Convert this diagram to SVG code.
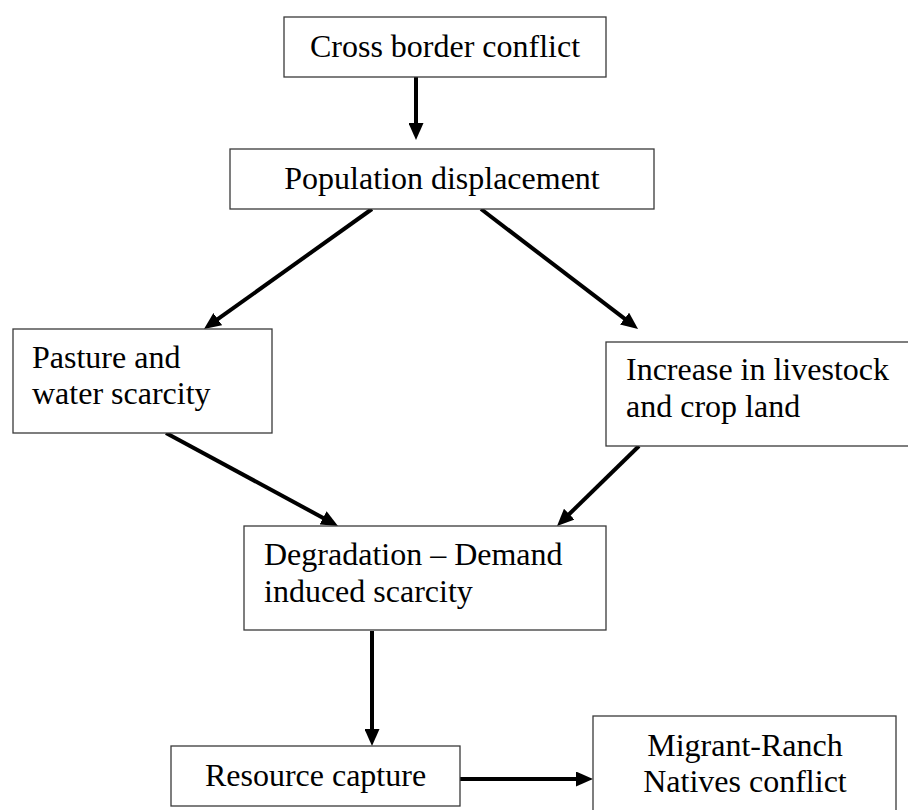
<svg xmlns="http://www.w3.org/2000/svg" width="908" height="810" viewBox="0 0 908 810">
<style>
.box{fill:#fff;stroke:#3a3a3a;stroke-width:1.3}
.t{font-family:"Liberation Serif","Times New Roman",serif;font-size:32px;fill:#000}
.c{text-anchor:middle}
.a{stroke:#000;stroke-width:4;fill:none;marker-end:url(#ah)}
</style>
<defs>
<marker id="ah" markerUnits="userSpaceOnUse" markerWidth="17" markerHeight="15" viewBox="0 0 17 15" refX="7" refY="7.5" orient="auto">
<path d="M0,0 L17,7.5 L0,15 z" fill="#000"/>
</marker>
</defs>
<rect width="908" height="810" fill="#fff"/>
<g id="connectors">
<line class="a" x1="416" y1="77" x2="416" y2="130"/>
<line class="a" x1="372" y1="209" x2="212.1" y2="323.2"/>
<line class="a" x1="481" y1="209" x2="630.1" y2="322.9"/>
<line class="a" x1="166" y1="433" x2="329.2" y2="521.2"/>
<line class="a" x1="639" y1="446" x2="564.2" y2="519"/>
<line class="a" x1="372" y1="631" x2="372" y2="736"/>
<line class="a" x1="460" y1="779" x2="583" y2="779"/>
</g>
<g id="cross-border">
<rect class="box" x="284" y="17" width="322" height="60"/>
<text class="t c" x="445" y="57">Cross border conflict</text>
</g>
<g id="population">
<rect class="box" x="230" y="149" width="424" height="60"/>
<text class="t c" x="442" y="189">Population displacement</text>
</g>
<g id="pasture">
<rect class="box" x="13" y="329" width="259" height="104"/>
<text class="t" x="32" y="368">Pasture and</text>
<text class="t" x="32" y="404">water scarcity</text>
</g>
<g id="increase">
<rect class="box" x="606" y="342" width="310" height="104"/>
<text class="t" x="626" y="380">Increase in livestock</text>
<text class="t" x="626" y="417">and crop land</text>
</g>
<g id="degradation">
<rect class="box" x="244" y="526" width="362" height="104"/>
<text class="t" x="264" y="565">Degradation – Demand</text>
<text class="t" x="264" y="602">induced scarcity</text>
</g>
<g id="resource">
<rect class="box" x="171" y="746" width="289" height="60"/>
<text class="t c" x="315.5" y="786">Resource capture</text>
</g>
<g id="migrant">
<rect class="box" x="593" y="716" width="303" height="110"/>
<text class="t c" x="745" y="756">Migrant-Ranch</text>
<text class="t c" x="745" y="792">Natives conflict</text>
</g>
</svg>
